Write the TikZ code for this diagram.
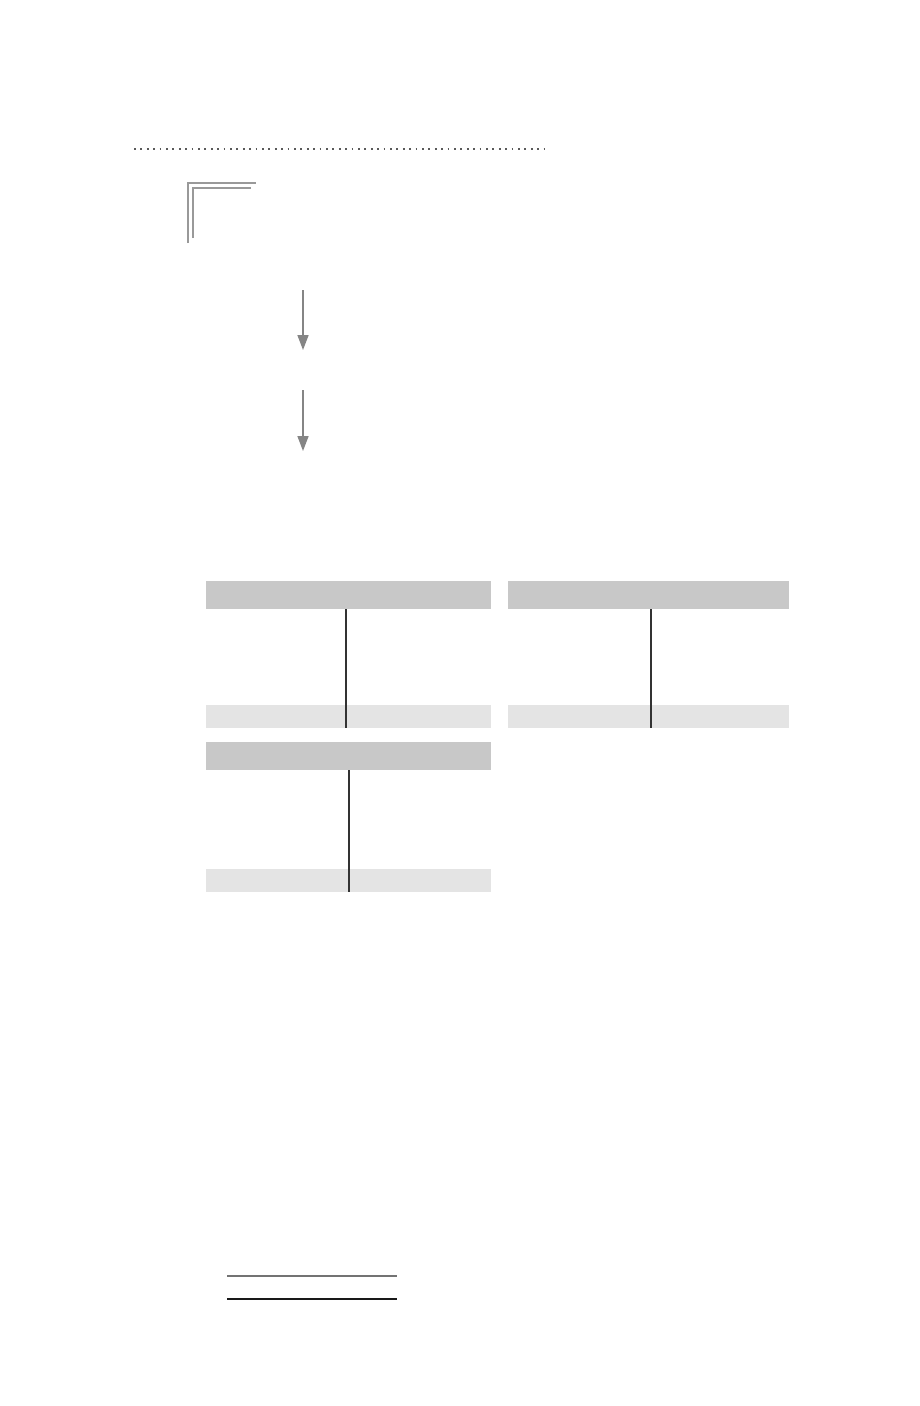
\documentclass[tikz,border=0pt]{standalone}
\usepackage{tikz}
\usetikzlibrary{arrows.meta,positioning}
\definecolor{headgray}{HTML}{C8C8C8}
\definecolor{footgray}{HTML}{E4E4E4}
\definecolor{rulegray}{HTML}{999999}
\definecolor{arrowgray}{HTML}{858585}
\begin{document}
\begin{tikzpicture}[x=1pt,y=-1pt,
    flowarrow/.style={draw=arrowgray,line width=1.6pt,-{Triangle[length=15pt,width=11pt]}},
    headbar/.style={fill=headgray},
    footbar/.style={fill=footgray},
    splitline/.style={draw=black!80,line width=1.1pt},
    cornerline/.style={draw=rulegray,line width=1.6pt}]
    \useasboundingbox[fill=white] (0,0) rectangle (920,1406);
    % dotted rule at the top
    \draw[black!65,line width=1.8pt,dash pattern=on 1.8pt off 4.6pt] (134,149) -- (545,149);
    % double corner
    \draw[cornerline] (188,243) -- (188,183) -- (256,183);
    \draw[cornerline] (193,238) -- (193,188) -- (251,188);
    % arrows
    \coordinate (a0) at (303,290);
    \coordinate (a1) at (303,350);
    \coordinate (b0) at (303,390);
    \coordinate (b1) at (303,451);
    \draw[flowarrow] (a0) -- (a1);
    \draw[flowarrow] (b0) -- (b1);
    % tables
    \fill[headbar] (206,581) rectangle (491,609);
    \fill[footbar] (206,705) rectangle (491,728);
    \draw[splitline] (346,609) -- (346,728);
    \fill[headbar] (508,581) rectangle (789,609);
    \fill[footbar] (508,705) rectangle (789,728);
    \draw[splitline] (651,609) -- (651,728);
    \fill[headbar] (206,742) rectangle (491,770);
    \fill[footbar] (206,869) rectangle (491,892);
    \draw[splitline] (349,770) -- (349,892);
    % rules at the bottom
    \draw[black!55,line width=1.4pt] (227,1276) -- (397,1276);
    \draw[black!90,line width=1.4pt] (227,1299) -- (397,1299);
\end{tikzpicture}
\end{document}
